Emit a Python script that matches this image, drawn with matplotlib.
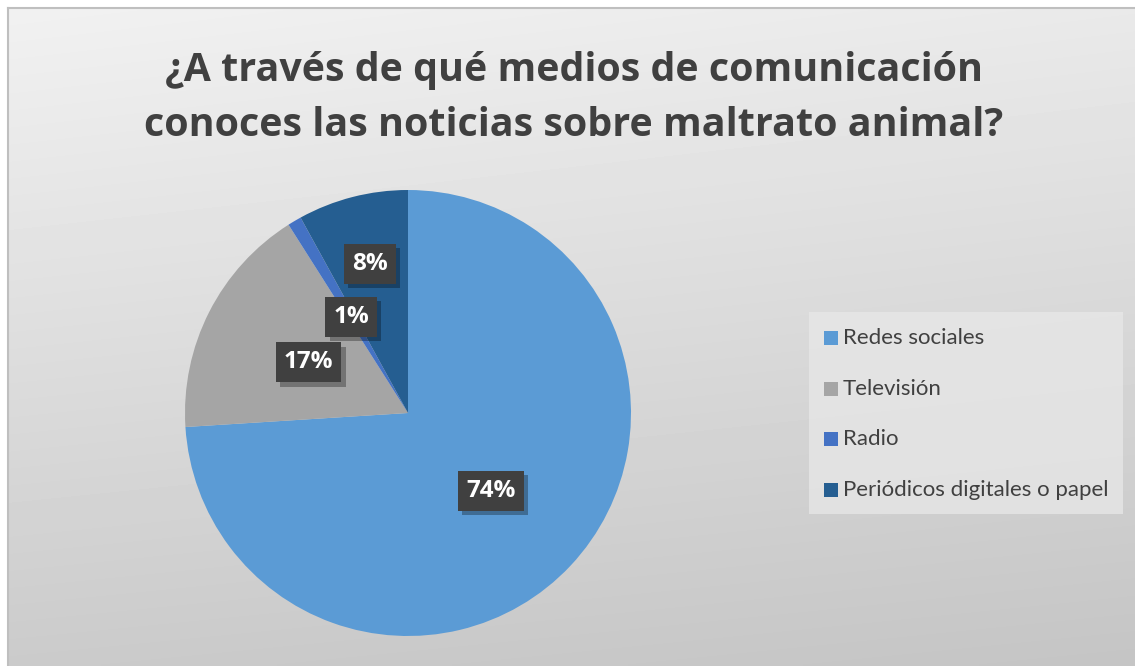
import numpy as np
import matplotlib
matplotlib.use('Agg')
import matplotlib.pyplot as plt
import matplotlib.patheffects as pe

plt.rcParams['font.family'] = ['Lato', 'DejaVu Sans']

categories = ['Redes sociales', 'Televisión', 'Radio', 'Periódicos digitales o papel']
values = [74, 17, 1, 8]
labels = ['74%', '17%', '1%', '8%']
colors = ['#5B9BD5', '#A5A5A5', '#4472C4', '#255E91']
label_dist = [0.51, 0.50, 0.50, 0.69]
title = '¿A través de qué medios de comunicación\nconoces las noticias sobre maltrato animal?'

W, H = 1135, 666
fig = plt.figure(figsize=(W / 100, H / 100), dpi=100)
fig.patch.set_facecolor('white')

# background gradient (chart area starts ~8px from left/top)
bg = fig.add_axes([8 / W, 0, 1 - 8 / W, 1 - 8 / H])
yy, xx = np.mgrid[0:1:200j, 0:1:300j]
tl, tr, bl, br = 0.945, 0.915, 0.795, 0.77
grad = (tl * (1 - xx) * (1 - yy) + tr * xx * (1 - yy)
        + bl * (1 - xx) * yy + br * xx * yy)
bg.imshow(grad, cmap='gray', vmin=0, vmax=1, aspect='auto',
          extent=[0, 1, 1, 0], interpolation='bilinear')
bg.set_xlim(0, 1)
bg.set_ylim(1, 0)
bg.set_xticks([])
bg.set_yticks([])
for name, s in bg.spines.items():
    s.set_visible(name in ('left', 'top'))
    s.set_color('#bfbfbf')
    s.set_linewidth(1.5)

fig.text(574 / W, 1 - 98 / H, title, ha='center', va='center',
         fontsize=28.4, fontweight='bold', color='#404040', linespacing=1.5,
         family=['Open Sans', 'DejaVu Sans'])

# pie
cx, cy, r = 408, 413, 223
ax = fig.add_axes([(cx - r) / W, (H - cy - r) / H, 2 * r / W, 2 * r / H])
wedges, _ = ax.pie(values, colors=colors, startangle=90, counterclock=False,
                   radius=1, wedgeprops=dict(linewidth=0))
ax.set_xlim(-1, 1)
ax.set_ylim(-1, 1)
ax.set_aspect('equal')
ax.axis('off')

for w, lab, d in zip(wedges, labels, label_dist):
    ang = np.deg2rad((w.theta1 + w.theta2) / 2)
    x, y = d * np.cos(ang), d * np.sin(ang)
    t = ax.text(x, y, lab, ha='center', va='center', fontsize=17.5,
                fontweight='bold', color='white',
                family=['Open Sans', 'DejaVu Sans'],
                bbox=dict(boxstyle='square,pad=0.33', fc='#404040', ec='none'))
    t.get_bbox_patch().set_path_effects(
        [pe.SimplePatchShadow(offset=(3, -3), shadow_rgbFace='black', alpha=0.3),
         pe.Normal()])

# legend
leg_ax = fig.add_axes([0, 0, 1, 1], facecolor='none')
leg_ax.set_xlim(0, W)
leg_ax.set_ylim(H, 0)
leg_ax.axis('off')
leg_ax.add_patch(plt.Rectangle((809, 312), 314, 202, fc='#e8e8e8', ec='none', alpha=0.75))
ys = [338, 389, 439, 490]
for yv, cat, col in zip(ys, categories, colors):
    leg_ax.add_patch(plt.Rectangle((824, yv - 7), 14, 14, fc=col, ec='none'))
    leg_ax.text(843, yv, cat, ha='left', va='center', fontsize=16, color='#404040')

fig.savefig('out.png', dpi=100)
